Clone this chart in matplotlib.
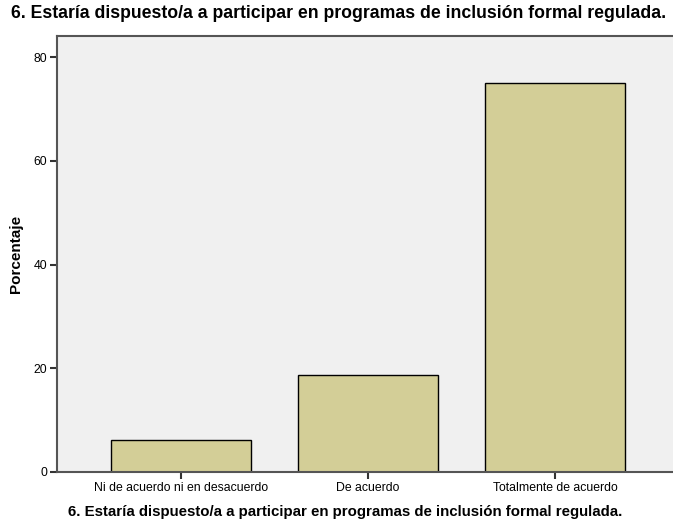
import matplotlib
matplotlib.use("Agg")
import matplotlib.pyplot as plt

plt.rcParams["font.family"] = ["Liberation Sans", "DejaVu Sans"]

TITLE = "6. Estaría dispuesto/a a participar en programas de inclusión formal regulada."

categories = [
    "Ni de acuerdo ni en desacuerdo",
    "De acuerdo",
    "Totalmente de acuerdo",
]
percentages = [6.25, 18.75, 75.0]
y_ticks = [0, 20, 40, 60, 80]

fig = plt.figure(figsize=(6.73, 5.22), dpi=100)
ax = fig.add_axes([57 / 673, 50 / 522, 616 / 673, 436 / 522])
ax.set_facecolor("#f0f0f0")

x = list(range(len(categories)))
ax.bar(x, percentages, width=0.75, color="#d3ce97",
       edgecolor="black", linewidth=1.0, zorder=2)

ax.set_xlim(-0.663, 2.631)
ax.set_ylim(0, 84.1)
ax.set_xticks(x)
ax.set_xticklabels(categories, fontsize=8.8)
ax.set_yticks(y_ticks)
ax.set_yticklabels([str(v) for v in y_ticks], fontsize=8.8)

for side in ["left", "bottom", "top"]:
    ax.spines[side].set_color("#555555")
    ax.spines[side].set_linewidth(1.5)
ax.spines["right"].set_visible(False)

ax.tick_params(axis="both", length=5, width=1.5, color="#333333",
               labelcolor="black", pad=2)

# y label, bottom label and title placed in figure pixels
fig.text(16.5 / 673, 1 - 254 / 522, "Porcentaje", rotation=90,
         ha="center", va="center", fontsize=11, fontweight="bold")
fig.text(345 / 673, 10 / 522, TITLE, ha="center", va="center",
         fontsize=10.8, fontweight="bold")
fig.text(339 / 673, 1 - 14 / 522, TITLE, ha="center", va="center",
         fontsize=12.7, fontweight="bold")

fig.savefig("out.png", dpi=100)
plt.close(fig)
